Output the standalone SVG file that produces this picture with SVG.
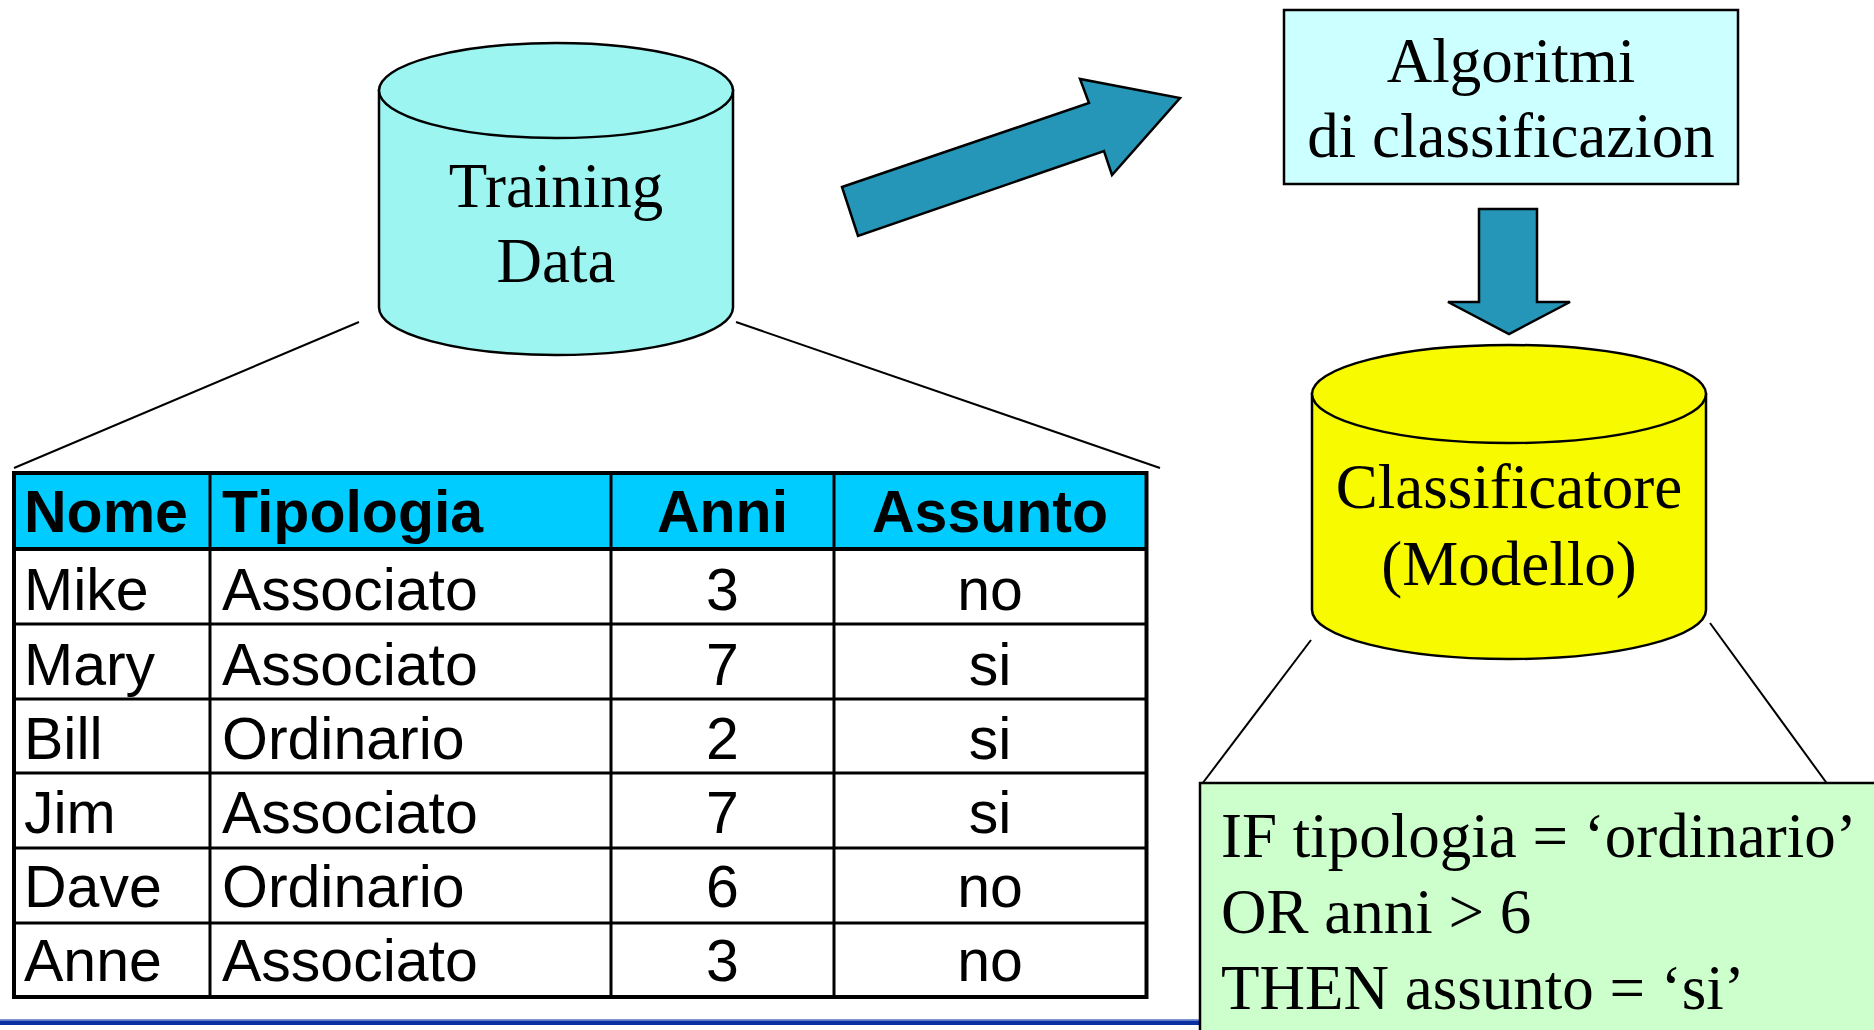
<svg xmlns="http://www.w3.org/2000/svg" width="1874" height="1030" viewBox="0 0 1874 1030">
  <style>
    .serif { font-family: "Liberation Serif", "Times New Roman", serif; font-size: 63px; fill: #000; }
    .sans { font-family: "Liberation Sans", Arial, sans-serif; font-size: 59px; fill: #000; }
    .bold { font-weight: bold; }
    .conn { stroke: #000; stroke-width: 2; fill: none; }
    .block { fill: #2696B8; stroke: #000; stroke-width: 2.5; stroke-linejoin: miter; }
    .grid { stroke: #000; stroke-width: 3.5; fill: none; }
    .outline { stroke: #000; stroke-width: 2.5; }
  </style>
  <rect width="1874" height="1030" fill="#fff"/>

  <!-- bottom rule -->
  <rect x="0" y="1019" width="1200" height="1.5" fill="#7C95D6"/>
  <rect x="0" y="1020.5" width="1200" height="4.5" fill="#0A2FA0"/>

  <g id="connectors">
    <line class="conn" x1="359" y1="322" x2="14" y2="468"/>
    <line class="conn" x1="736" y1="322" x2="1160" y2="468"/>
    <line class="conn" x1="1311" y1="640" x2="1202" y2="784"/>
    <line class="conn" x1="1710" y1="623" x2="1831" y2="789"/>
    <polygon class="block" points="842,187 1089,103 1080,79 1180,98 1112,175 1104,151 858,236"/>
    <polygon class="block" points="1479,209 1537,209 1537,302 1570,302 1509,334 1448,302 1479,302"/>
  </g>

  <g id="training-data">
    <path class="outline" fill="#9CF5F0" d="M379 90.5 L379 307.5 A177 47.5 0 0 0 733 307.5 L733 90.5 Z"/>
    <ellipse class="outline" cx="556" cy="90.5" rx="177" ry="47.5" fill="#9CF5F0"/>
    <text class="serif" x="556" y="207" text-anchor="middle">Training</text>
    <text class="serif" x="556" y="282" text-anchor="middle">Data</text>
  </g>

  <g id="algoritmi">
    <rect class="outline" x="1284" y="10" width="454" height="174" fill="#CCFFFF"/>
    <text class="serif" x="1511" y="82" text-anchor="middle">Algoritmi</text>
    <text class="serif" x="1511" y="157" text-anchor="middle">di classificazion</text>
  </g>

  <g id="classificatore">
    <path class="outline" fill="#F8FA00" d="M1312 394 L1312 610 A197 49 0 0 0 1706 610 L1706 394 Z"/>
    <ellipse class="outline" cx="1509" cy="394" rx="197" ry="49" fill="#F8FA00"/>
    <text class="serif" x="1509" y="508" text-anchor="middle">Classificatore</text>
    <text class="serif" x="1509" y="585" text-anchor="middle">(Modello)</text>
  </g>

  <g id="regola">
    <rect x="1200" y="783" width="700" height="300" fill="#CCFFCC" stroke="#000" stroke-width="2.5"/>
    <text class="serif" x="1221" y="857">IF tipologia = ‘ordinario’</text>
    <text class="serif" x="1221" y="933">OR anni &gt; 6</text>
    <text class="serif" x="1221" y="1009">THEN assunto = ‘si’</text>
  </g>

  <g id="tabella">
    <rect x="14" y="473" width="1132.5" height="76" fill="#00CCFF"/>
    <rect x="14" y="549" width="1132.5" height="448" fill="#fff"/>
    <g class="grid">
      <line x1="14" y1="624" x2="1146.5" y2="624" stroke-width="3"/>
      <line x1="14" y1="699" x2="1146.5" y2="699" stroke-width="3"/>
      <line x1="14" y1="773" x2="1146.5" y2="773" stroke-width="3"/>
      <line x1="14" y1="848" x2="1146.5" y2="848" stroke-width="3"/>
      <line x1="14" y1="923" x2="1146.5" y2="923" stroke-width="3"/>
      <line x1="14" y1="549" x2="1146.5" y2="549" stroke-width="4"/>
      <line x1="210" y1="473" x2="210" y2="997" stroke-width="3"/>
      <line x1="611" y1="473" x2="611" y2="997" stroke-width="3"/>
      <line x1="834" y1="473" x2="834" y2="997" stroke-width="3"/>
      <rect x="14" y="473" width="1132.5" height="524" stroke-width="4"/>
    </g>
    <g class="sans bold">
      <text x="24" y="532">Nome</text>
      <text x="222" y="532">Tipologia</text>
      <text x="722.5" y="532" text-anchor="middle">Anni</text>
      <text x="990" y="532" text-anchor="middle">Assunto</text>
    </g>
    <g class="sans">
      <text x="24" y="610">Mike</text>
      <text x="222" y="610">Associato</text>
      <text x="722.5" y="610" text-anchor="middle">3</text>
      <text x="990" y="610" text-anchor="middle">no</text>
      <text x="24" y="685">Mary</text>
      <text x="222" y="685">Associato</text>
      <text x="722.5" y="685" text-anchor="middle">7</text>
      <text x="990" y="685" text-anchor="middle">si</text>
      <text x="24" y="759">Bill</text>
      <text x="222" y="759">Ordinario</text>
      <text x="722.5" y="759" text-anchor="middle">2</text>
      <text x="990" y="759" text-anchor="middle">si</text>
      <text x="24" y="833">Jim</text>
      <text x="222" y="833">Associato</text>
      <text x="722.5" y="833" text-anchor="middle">7</text>
      <text x="990" y="833" text-anchor="middle">si</text>
      <text x="24" y="907">Dave</text>
      <text x="222" y="907">Ordinario</text>
      <text x="722.5" y="907" text-anchor="middle">6</text>
      <text x="990" y="907" text-anchor="middle">no</text>
      <text x="24" y="981">Anne</text>
      <text x="222" y="981">Associato</text>
      <text x="722.5" y="981" text-anchor="middle">3</text>
      <text x="990" y="981" text-anchor="middle">no</text>
    </g>
  </g>
</svg>
